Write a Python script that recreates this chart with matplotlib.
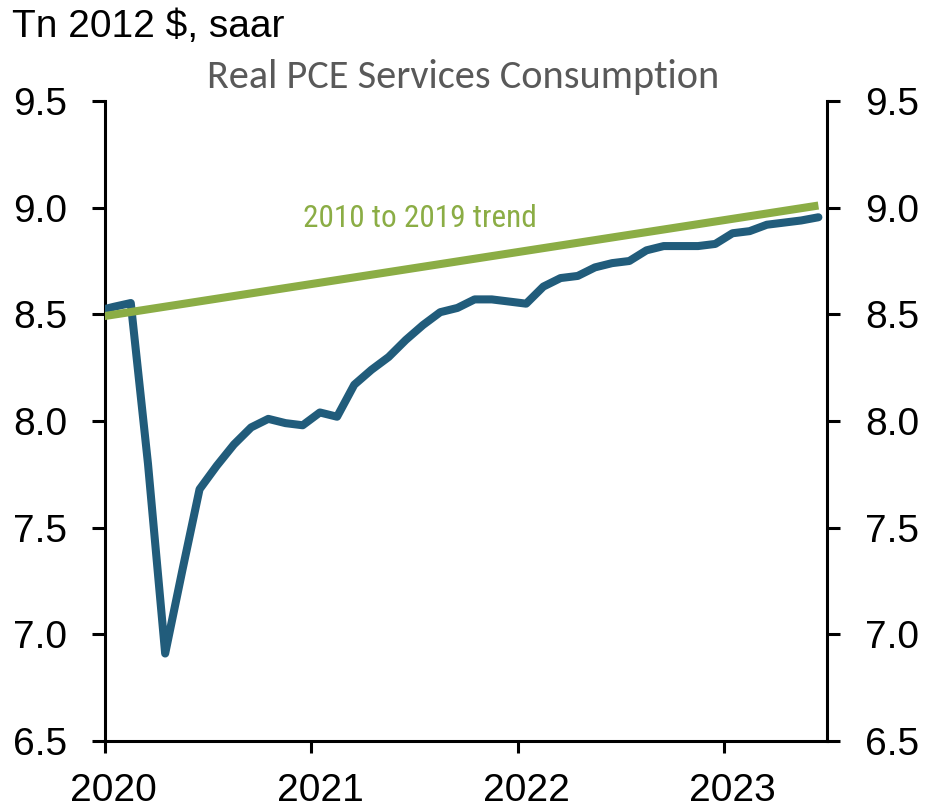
import matplotlib
matplotlib.use("Agg")
import matplotlib.pyplot as plt
import pandas as pd

# ---- data ----
months = pd.period_range("2019-12", "2023-06", freq="M")
pce_services = [8.515,
                8.535, 8.553, 7.80, 6.91, 7.30, 7.68, 7.79, 7.89, 7.97, 8.01, 7.99, 7.98,
                8.04, 8.02, 8.17, 8.24, 8.30, 8.38, 8.45, 8.51, 8.53, 8.57, 8.57, 8.56,
                8.55, 8.63, 8.67, 8.68, 8.72, 8.74, 8.75, 8.80, 8.82, 8.82, 8.82, 8.83,
                8.88, 8.89, 8.92, 8.93, 8.94, 8.955]
trend_months = pd.PeriodIndex(["2019-12", "2023-06"], freq="M")
trend_values = [8.486, 9.010]
year_labels = ["2020", "2021", "2022", "2023"]
y_ticks = [6.5, 7.0, 7.5, 8.0, 8.5, 9.0, 9.5]

base = pd.Period("2020-01", freq="M")
x_pce = [(m - base).n for m in months]
x_trend = [(m - base).n for m in trend_months]

BLUE = "#215C7B"
GREEN = "#8BAD45"
FONT = ["Liberation Sans", "DejaVu Sans"]

fig = plt.figure(figsize=(9.26, 8.09), dpi=100)
ax = fig.add_axes([105/926, 1-741/809, (827-105)/926, (741-101)/809])

ax.plot(x_pce, pce_services, color=BLUE, lw=5.8, solid_capstyle="round",
        solid_joinstyle="round", zorder=3)
ax.plot(x_trend, trend_values, color=GREEN, lw=5.8, solid_capstyle="butt", zorder=4)

ax.set_xlim(-0.5, 41.5)
ax.set_ylim(6.5, 9.5)

# x axis: ticks at year boundaries, labels centred on January
ax.set_xticks([-0.5 + 12*i for i in range(len(year_labels))])
ax.set_xticklabels([])
ax.set_xticks([12*i for i in range(len(year_labels))], minor=True)
ax.set_xticklabels(year_labels, minor=True, fontsize=28, family=FONT)
ax.tick_params(axis="x", which="major", direction="out", length=8.6, width=2.2, color="black")
ax.tick_params(axis="x", which="minor", length=0, pad=23)

ax.set_yticks(y_ticks)
ax.set_yticklabels([f"{v:.1f}" for v in y_ticks], fontsize=28, family=FONT)
ax.tick_params(axis="y", which="major", direction="out", length=9.4, width=2.2,
               left=True, right=True, labelleft=True, labelright=True, pad=18)
for t in ax.yaxis.get_major_ticks():
    t.label2.set_fontsize(28)
    t.label2.set_family(FONT)

for s in ["left", "right", "bottom"]:
    ax.spines[s].set_linewidth(2.2)
    ax.spines[s].set_color("black")
ax.spines["top"].set_visible(False)

fig.text(12/926, 1-37/809, "Tn 2012 $, saar", fontsize=28, family=FONT,
         ha="left", va="baseline", color="black")
fig.text(463/926, 1-88/809, "Real PCE Services Consumption", fontsize=29,
         family=["Carlito", "DejaVu Sans"], ha="center", va="baseline", color="#595959")
ax.text((303-105)/722, (741-227)/640, "2010 to 2019 trend", transform=ax.transAxes,
        fontsize=22.5, family=["Roboto Condensed", "Liberation Sans"], color=GREEN,
        ha="left", va="baseline")

fig.savefig("out.png", dpi=100)
